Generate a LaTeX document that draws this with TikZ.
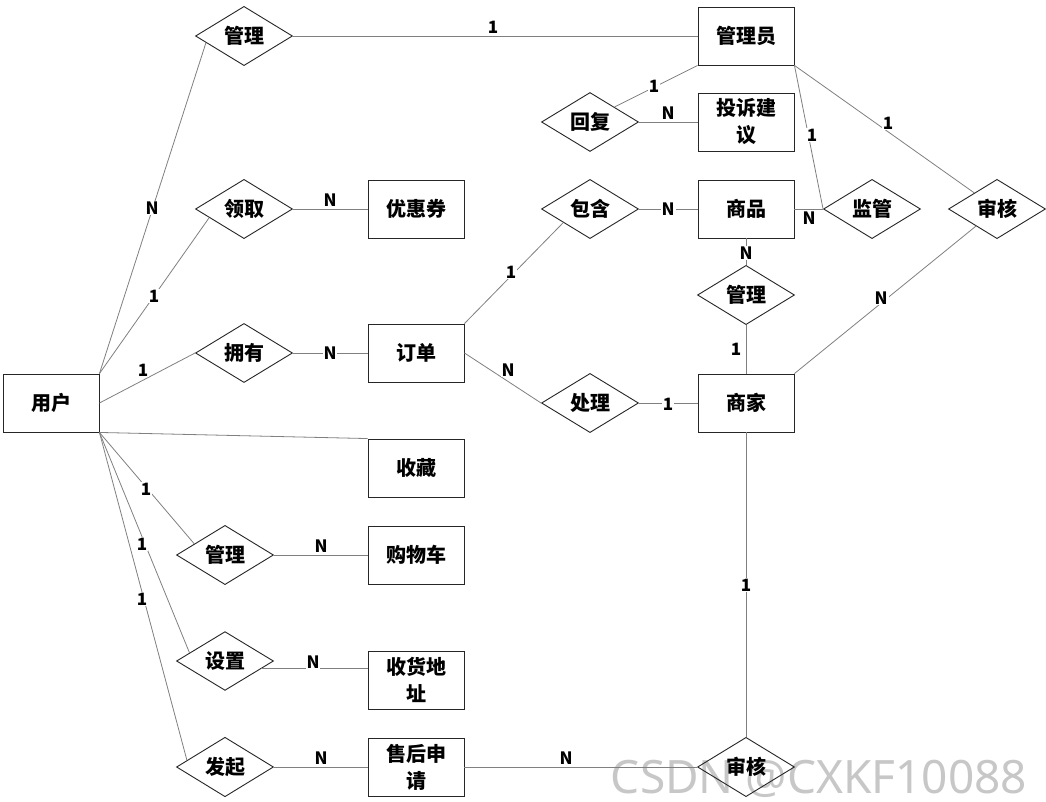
\documentclass[tikz,border=0pt]{standalone}
\usepackage{fontspec}
\setmainfont{Noto Sans CJK SC}
\setsansfont{Noto Sans}
\usetikzlibrary{shapes.geometric}

\tikzset{
  entity/.style={draw=black!85, line width=0.9pt, minimum width=96pt, minimum height=58pt,
    inner sep=0pt, align=center, font=\bfseries\fontsize{20}{27}\selectfont},
  relation/.style={diamond, draw=black!85, line width=0.9pt, minimum width=97pt, minimum height=57pt,
    inner sep=0pt, font=\bfseries\fontsize{20}{27}\selectfont},
  card/.style={fill=white, inner sep=1pt, font=\bfseries\fontsize{17}{17}\selectfont},
  link/.style={draw=black!50, line width=0.8pt},
  watermark/.style={text=black!22, font=\sffamily\fontsize{46}{46}\selectfont}
}

\begin{document}
\begin{tikzpicture}[x=1pt,y=-1pt]
    \useasboundingbox[fill=white] (0,0) rectangle (1046,802);
    \node[watermark, anchor=base] (Mark) at (819,793) {CSDN @CXKF10088};
    %% Draw the entities
    \node[entity] (User) at (51,403) {用户};
    \node[entity] (Coupon) at (416,209) {优惠券};
    \node[entity] (Order) at (416,353) {订单};
    \node[entity] (Fav) at (416,468) {收藏};
    \node[entity] (Cart) at (416,555) {购物车};
    \node[entity] (Addr) at (416,680) {收货地\\址};
    \node[entity] (After) at (416,767) {售后申\\请};
    \node[entity] (Admin) at (746,36) {管理员};
    \node[entity] (Advice) at (746,122) {投诉建\\议};
    \node[entity] (Goods) at (746,209) {商品};
    \node[entity] (Shop) at (746,403) {商家};
    %% Draw the relations
    \node[relation] (RManage) at (244,36) {管理};
    \node[relation] (RGet) at (244,209) {领取};
    \node[relation] (ROwn) at (244,353) {拥有};
    \node[relation] (RCart) at (225,555) {管理};
    \node[relation] (RSet) at (225,661) {设置};
    \node[relation] (RStart) at (225,767) {发起};
    \node[relation] (RReply) at (590,122) {回复};
    \node[relation] (RHold) at (590,209) {包含};
    \node[relation] (RDeal) at (590,403) {处理};
    \node[relation] (RWatch) at (872,209) {监管};
    \node[relation] (RCheck) at (997,209) {审核};
    \node[relation] (RGoods) at (746,295) {管理};
    \node[relation] (RAudit) at (746,767) {审核};
    %% Draw the edges
    \begin{scope}[every path/.style={link}]
      \draw (User.north east) -- (RManage.190);
      \draw (User.north east) -- (RGet.194);
      \draw (User.east) -- (ROwn.west);
      \draw (User.south east) -- (Fav.north west);
      \draw (User.south east) -- (RCart.160);
      \draw (User.south east) -- (RSet.167);
      \draw (User.south east) -- (RStart.170);
      \draw (RManage) -- (Admin);
      \draw (RGet) -- (Coupon);
      \draw (ROwn) -- (Order);
      \draw (RCart) -- (Cart);
      \draw (RSet.-12) -- (RSet.-12 -| Addr.west);
      \draw (RStart) -- (After);
      \draw (After) -- (RAudit);
      \draw (Order.north east) -- (RHold.207);
      \draw (Order.east) -- (RDeal.west);
      \draw (RHold) -- (Goods);
      \draw (RDeal) -- (Shop);
      \draw (Admin.south west) -- (RReply.north east);
      \draw (RReply) -- (Advice);
      \draw (Admin.south east) -- (RWatch.west);
      \draw (Admin.south east) -- (RCheck);
      \draw (Goods) -- (RWatch);
      \draw (Goods) -- (RGoods);
      \draw (RGoods) -- (Shop);
      \draw (Shop.north east) -- (RCheck);
      \draw (Shop) -- (RAudit);
    \end{scope}
    %% Draw the cardinalities
    \node[card] (cUM) at (152,208) {N};
    \node[card] (cUG) at (154,296) {1};
    \node[card] (cUO) at (143,370) {1};
    \node[card] (cMA) at (493,27) {1};
    \node[card] (cGC) at (330,200) {N};
    \node[card] (cOO) at (330,353) {N};
    \node[card] (cOH) at (511,272) {1};
    \node[card] (cOD) at (508,370) {N};
    \node[card] (cHG) at (668,209) {N};
    \node[card] (cDS) at (668,404) {1};
    \node[card] (cAR) at (654,86) {1};
    \node[card] (cRA) at (668,113) {N};
    \node[card] (cAW) at (812,135) {1};
    \node[card] (cAC) at (888,123) {1};
    \node[card] (cGW) at (809,218) {N};
    \node[card] (cGG) at (746,253) {N};
    \node[card] (cGS) at (736,349) {1};
    \node[card] (cSC) at (881,298) {N};
    \node[card] (cSA) at (746,585) {1};
    \node[card] (cAA) at (566,758) {N};
    \node[card] (cUC) at (146,489) {1};
    \node[card] (cUS) at (142,544) {1};
    \node[card] (cUF) at (142,599) {1};
    \node[card] (cCC) at (321,546) {N};
    \node[card] (cSD) at (313,662) {N};
    \node[card] (cFA) at (321,758) {N};
\end{tikzpicture}
\end{document}
